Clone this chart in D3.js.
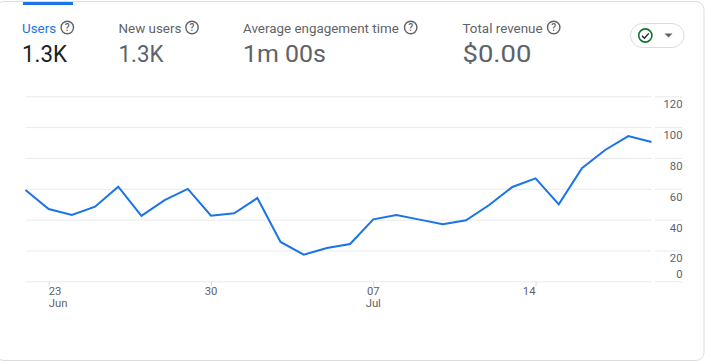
<!DOCTYPE html>
<meta charset="utf-8">
<style>
  html, body { margin: 0; padding: 0; background: #fff; overflow: hidden; }
  text { font-family: Roboto, sans-serif; }
</style>

<body>
  <script src="https://d3js.org/d3.v7.min.js"></script>
  <script>
    var width = 705, height = 362;

    // first day is 22 Jun
    var days = ["2024-06-22", "2024-06-23", "2024-06-24", "2024-06-25", "2024-06-26", "2024-06-27", "2024-06-28",
      "2024-06-29", "2024-06-30", "2024-07-01", "2024-07-02", "2024-07-03", "2024-07-04", "2024-07-05",
      "2024-07-06", "2024-07-07", "2024-07-08", "2024-07-09", "2024-07-10", "2024-07-11", "2024-07-12",
      "2024-07-13", "2024-07-14", "2024-07-15", "2024-07-16", "2024-07-17", "2024-07-18", "2024-07-19"];
    var users = [59.2, 46.9, 43, 48.4, 61.4, 42.4, 52.7, 59.9, 42.6, 44.1, 54, 25.5, 17.3, 21.6,
      24.2, 40.2, 43, 40, 37, 39.6, 49.5, 61.2, 66.8, 49.9, 73.3, 85.2, 94.2, 90.4];
    var yTicks = [0, 20, 40, 60, 80, 100, 120];
    var xTicks = ["2024-06-23", "2024-06-30", "2024-07-07", "2024-07-14"];
    var xDayLabels = ["23", "30", "07", "14"];
    var xMonthLabels = ["Jun", "", "Jul", ""];
    var xAnchors = ["start", "middle", "middle", "end"];
    var metricNames = ["Users", "New users", "Average engagement time", "Total revenue"];
    var metricValues = ["1.3K", "1.3K", "1m 00s", "$0.00"];
    var metricLeft = [22, 118.5, 243, 462.5];
    var metricHelp = [67.3, 192, 410.7, 553.7];
    var valueWidths = [45, 45, 83, 69];

    var parseDay = d3.timeParse("%Y-%m-%d");

    var x = d3.scaleTime()
      .domain([parseDay(days[0]), parseDay(days[days.length - 1])])
      .range([25.5, 651.5]);
    var y = d3.scaleLinear().domain([0, 120]).range([281.3, 96.3]);

    var svg = d3.select("body").append("svg")
      .attr("width", width)
      .attr("height", height)
      .style("display", "block");

    // card
    svg.append("rect")
      .attr("x", -4).attr("y", 1.5)
      .attr("width", 708).attr("height", 359)
      .attr("rx", 8)
      .style("fill", "#fff")
      .style("stroke", "#dadce0");

    // blue tab over the selected metric
    svg.append("rect")
      .attr("x", 23).attr("y", 2)
      .attr("width", 50).attr("height", 3)
      .style("fill", "#1a73e8");

    // metric headers
    var metric = svg.selectAll(".metric").data(metricNames).enter().append("g").attr("class", "metric");
    metric.append("text")
      .attr("x", function(d, i) { return metricLeft[i]; })
      .attr("y", 33)
      .style("font-size", "13.4px")
      .style("fill", function(d, i) { return i == 0 ? "#1a73e8" : "#5f6368"; })
      .text(function(d) { return d; });
    metric.append("text")
      .attr("x", function(d, i) { return metricLeft[i]; })
      .attr("y", 62)
      .attr("textLength", function(d, i) { return valueWidths[i]; })
      .attr("lengthAdjust", "spacingAndGlyphs")
      .style("font-size", "24.5px")
      .style("fill", function(d, i) { return i == 0 ? "#202124" : "#5f6368"; })
      .text(function(d, i) { return metricValues[i]; });

    // help icons
    var help = metric.append("g")
      .attr("transform", function(d, i) { return "translate(" + metricHelp[i] + ",27.5)"; });
    help.append("circle")
      .attr("r", 6.2)
      .style("fill", "none")
      .style("stroke", "#5f6368")
      .style("stroke-width", 1.4);
    help.append("text")
      .attr("text-anchor", "middle")
      .attr("y", 3.5)
      .style("font-size", "10px")
      .style("font-weight", 500)
      .style("fill", "#5f6368")
      .text("?");

    // status chip
    svg.append("rect")
      .attr("x", 630.5).attr("y", 23.5)
      .attr("width", 53.5).attr("height", 24)
      .attr("rx", 12)
      .style("fill", "#fff")
      .style("stroke", "#dadce0");
    svg.append("circle")
      .attr("cx", 645.3).attr("cy", 35.5).attr("r", 6.6)
      .style("fill", "#fff")
      .style("stroke", "#137333")
      .style("stroke-width", 1.6);
    svg.append("path")
      .attr("d", "M642,35.8l2.4,2.4l4.4,-4.8")
      .style("fill", "none")
      .style("stroke", "#202124")
      .style("stroke-width", 1.4);
    svg.append("path")
      .attr("d", "M664.5,33.5h8l-4,4z")
      .style("fill", "#5f6368");

    // gridlines
    svg.append("g")
      .call(d3.axisRight(y).tickValues(yTicks).tickSize(626).tickFormat(""))
      .call(function(g) {
        g.select(".domain").remove();
        g.selectAll("line")
          .attr("transform", "translate(25.5,0)")
          .style("stroke", "#e8eaed");
      });

    // right axis, labels sit under their line except for the 0
    svg.append("g")
      .attr("transform", "translate(655,0)")
      .call(d3.axisRight(y).tickValues(yTicks).tickSize(27).tickPadding(0).tickFormat(d3.format("d")))
      .call(function(g) {
        g.select(".domain").remove();
        g.selectAll("line").style("stroke", "#e8eaed");
        g.selectAll("text")
          .attr("x", 27.5)
          .attr("text-anchor", "end")
          .attr("dy", function(d) { return d == 0 ? "-3.5" : "11.5"; })
          .style("font-size", "11.3px")
          .style("font-family", "Roboto, sans-serif")
          .style("fill", "#5f6368");
      });

    // bottom axis
    var xAxis = svg.append("g")
      .attr("transform", "translate(0,281.3)")
      .call(d3.axisBottom(x).tickValues(xTicks.map(parseDay)).tickSize(5).tickFormat(""));
    xAxis.select(".domain").remove();
    xAxis.selectAll("line").style("stroke", "#dadce0");

    var tickGroups = svg.selectAll(".xlabel").data(xTicks).enter().append("g").attr("class", "xlabel");
    tickGroups.append("text")
      .attr("x", function(d) { return x(parseDay(d)); })
      .attr("y", 295)
      .attr("text-anchor", function(d, i) { return xAnchors[i]; })
      .style("font-size", "11.3px")
      .style("fill", "#5f6368")
      .text(function(d, i) { return xDayLabels[i]; });
    tickGroups.append("text")
      .attr("x", function(d) { return x(parseDay(d)); })
      .attr("y", 306.5)
      .attr("text-anchor", function(d, i) { return xAnchors[i]; })
      .style("font-size", "11.3px")
      .style("fill", "#5f6368")
      .text(function(d, i) { return xMonthLabels[i]; });

    var line = d3.line()
      .x(function(d, i) { return x(parseDay(days[i])); })
      .y(function(d) { return y(d); });

    svg.append("path")
      .datum(users)
      .attr("d", line)
      .style("fill", "none")
      .style("stroke", "#1a73e8")
      .style("stroke-width", 2);
  </script>
</body>
